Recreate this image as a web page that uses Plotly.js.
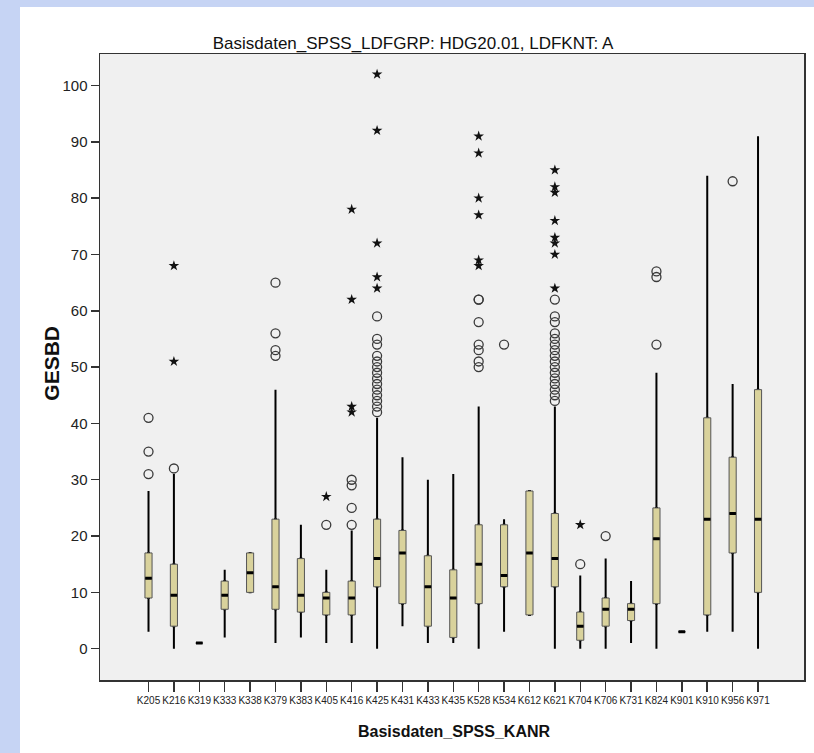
<!DOCTYPE html>
<html>
<head>
<meta charset="utf-8">
<script src="https://cdn.plot.ly/plotly-3.0.1.min.js"></script>
<style>
  html, body { margin: 0; padding: 0; width: 814px; height: 753px; overflow: hidden; background: #c6d4f4; }
  #chart { position: absolute; left: 20px; top: 7px; width: 794px; height: 746px; background: #ffffff; }
</style>
</head>
<body>
<div id="chart"></div>
<script>
// Station codes along the x axis
const categories = ['K205','K216','K319','K333','K338','K379','K383','K405','K416','K425','K431','K433','K435',
                    'K528','K534','K612','K621','K704','K706','K731','K824','K901','K910','K956','K971'];

// Five-number summaries of GESBD per station
const lowerWhisker = [3, 0, 1, 2, 10, 1, 2, 1, 1, 0, 4, 1, 1, 0, 3, 6, 0, 0, 0, 1, 0, 3, 3, 3, 0];
const q1           = [9, 4, 1, 7, 10, 7, 6.5, 6, 6, 11, 8, 4, 2, 8, 11, 6, 11, 1.5, 4, 5, 8, 3, 6, 17, 10];
const medians      = [12.5, 9.5, 1, 9.5, 13.5, 11, 9.5, 9, 9, 16, 17, 11, 9, 15, 13, 17, 16, 4, 7, 7, 19.5, 3, 23, 24, 23];
const q3           = [17, 15, 1, 12, 17, 23, 16, 10, 12, 23, 21, 16.5, 14, 22, 22, 28, 24, 6.5, 9, 8, 25, 3, 41, 34, 46];
const upperWhisker = [28, 31, 1, 14, 17, 46, 22, 14, 21, 41, 34, 30, 31, 43, 23, 28, 43, 13, 16, 12, 49, 3, 84, 47, 91];

// Outliers (circles) and extreme values (stars), one list per station
const outliers = [
  [41, 35, 31], [32], [], [], [], [65, 56, 53, 52], [], [22],
  [30, 29, 25, 22],
  [59, 55, 54, 52, 51, 50, 49, 48, 47, 46, 45, 44, 43, 42],
  [], [], [],
  [62, 62, 58, 54, 53, 51, 50],
  [54], [],
  [62, 59, 58, 56, 55, 54, 53, 52, 51, 50, 49, 48, 47, 46, 45, 44],
  [15], [20], [], [67, 66, 54], [], [], [83], []
];
const extremes = [
  [], [68, 51], [], [], [], [], [], [27],
  [78, 62, 43, 42],
  [102, 92, 72, 66, 64],
  [], [], [],
  [91, 88, 80, 77, 69, 68],
  [], [],
  [85, 82, 81, 76, 73, 72, 70, 64],
  [22], [], [], [], [], [], [], []
];

const sans = '"Liberation Sans", Arial, sans-serif';
const boxFill = '#d9d29c';

function flatten(lists) {
  const xs = [], ys = [];
  lists.forEach((vals, i) => vals.forEach(v => { xs.push(categories[i]); ys.push(v); }));
  return { xs, ys };
}

const common = { type: 'box', x: categories, hoverinfo: 'skip', showlegend: false, whiskerwidth: 0 };

// Whiskers: a thin hidden box carrying the full fence range
const whiskers = Object.assign({}, common, {
  q1: q1, median: medians, q3: q3, lowerfence: lowerWhisker, upperfence: upperWhisker,
  width: 0.04, fillcolor: '#000000', line: { color: '#000000', width: 2 }
});
// Interquartile boxes
const boxes = Object.assign({}, common, {
  q1: q1, median: medians, q3: q3, lowerfence: q1, upperfence: q3,
  width: 0.28, fillcolor: boxFill, line: { color: '#555555', width: 1 }
});
// Heavy median bars
const medianBars = Object.assign({}, common, {
  q1: medians, median: medians, q3: medians, lowerfence: medians, upperfence: medians,
  width: 0.26, fillcolor: '#000000', line: { color: '#000000', width: 3 }
});

const o = flatten(outliers);
const e = flatten(extremes);

const outlierTrace = {
  type: 'scatter', mode: 'markers', x: o.xs, y: o.ys, hoverinfo: 'skip', showlegend: false,
  marker: { symbol: 'circle-open', size: 9, color: '#3a3a3a', line: { width: 1.3, color: '#3a3a3a' } }
};
const extremeTrace = {
  type: 'scatter', mode: 'markers', x: e.xs, y: e.ys, hoverinfo: 'skip', showlegend: false,
  marker: { symbol: 'star', size: 8, color: '#111111', line: { width: 0 } }
};

const layout = {
  width: 794, height: 746,
  margin: { l: 80, r: 10, t: 47, b: 73 },
  paper_bgcolor: '#ffffff',
  plot_bgcolor: '#f0f0f0',
  boxmode: 'overlay',
  title: {
    text: 'Basisdaten_SPSS_LDFGRP: HDG20.01, LDFKNT: A',
    font: { family: sans, size: 17, color: '#111111' },
    xref: 'container', x: 0.495, xanchor: 'center',
    yref: 'container', y: 0.952, yanchor: 'middle'
  },
  xaxis: {
    type: 'category', categoryorder: 'array', categoryarray: categories,
    range: [-1.91, 25.81],
    showline: true, mirror: true, linecolor: '#333333', linewidth: 1.5,
    ticks: 'outside', ticklen: 10, tickwidth: 1.5, tickcolor: '#333333',
    tickangle: 0,
    tickfont: { family: sans, size: 10, color: '#222222' },
    showgrid: false, zeroline: false
  },
  yaxis: {
    range: [-5.56, 105.6],
    tickvals: [0, 10, 20, 30, 40, 50, 60, 70, 80, 90, 100],
    showline: true, mirror: true, linecolor: '#333333', linewidth: 1.5,
    ticks: 'outside', ticklen: 8, tickwidth: 1.5, tickcolor: '#333333',
    tickfont: { family: sans, size: 15, color: '#222222' },
    showgrid: false, zeroline: false
  },
  annotations: [
    {
      text: 'Basisdaten_SPSS_KANR', showarrow: false,
      xref: 'paper', yref: 'paper', x: 0.504, y: -0.083, xanchor: 'center', yanchor: 'middle',
      font: { family: sans, size: 16, color: '#111111', weight: 'bold' }
    },
    {
      text: 'GESBD', showarrow: false, textangle: -90,
      xref: 'paper', yref: 'paper', x: -0.069, y: 0.506, xanchor: 'center', yanchor: 'middle',
      font: { family: sans, size: 21, color: '#111111', weight: 'bold' }
    }
  ]
};

Plotly.newPlot('chart', [whiskers, boxes, medianBars, outlierTrace, extremeTrace], layout,
  { staticPlot: true, displayModeBar: false });
</script>
</body>
</html>
